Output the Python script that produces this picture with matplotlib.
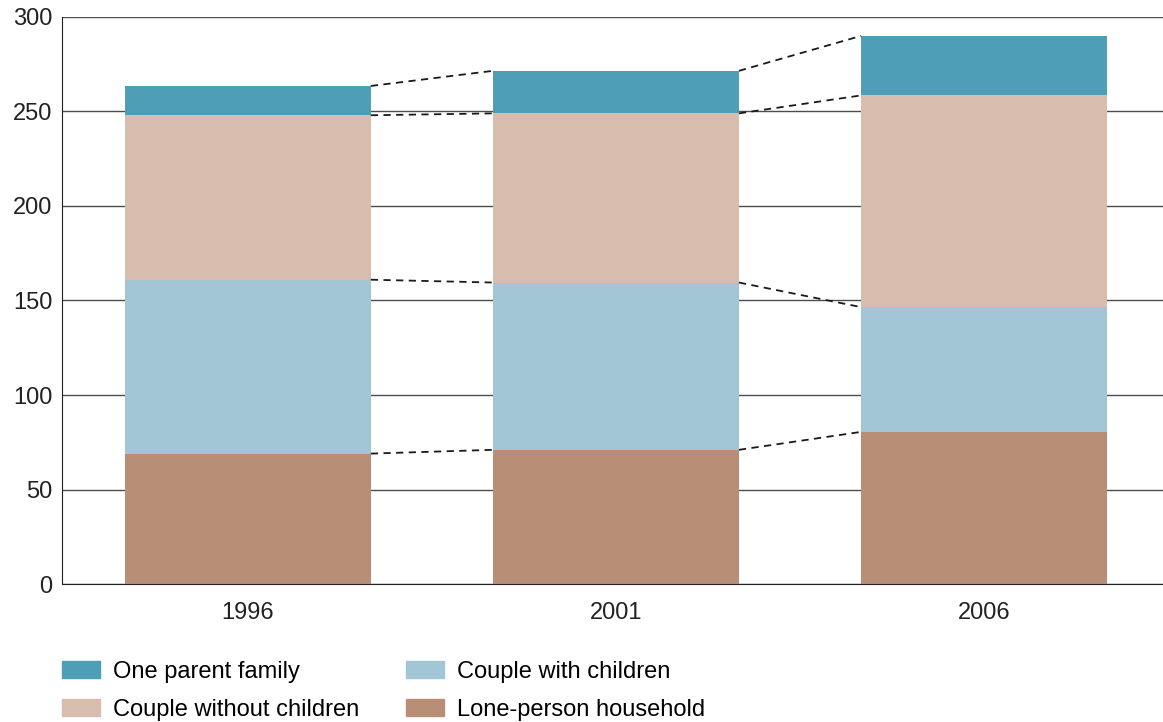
import numpy as np
import matplotlib
matplotlib.use("Agg")
import matplotlib.pyplot as plt
from matplotlib.patches import Patch

plt.rcParams['font.family'] = ['Liberation Sans', 'DejaVu Sans']

years = ['1996', '2001', '2006']
lone_person = [69, 71, 80.5]
couple_with = [92, 88.5, 66]
couple_without = [87, 89.5, 112]
one_parent = [15.5, 22.5, 31.5]

series = [
    ('Lone-person household', lone_person, '#b88f76'),
    ('Couple with children', couple_with, '#a2c6d6'),
    ('Couple without children', couple_without, '#d8bdae'),
    ('One parent family', one_parent, '#4e9eb8'),
]

fig = plt.figure(figsize=(11.63, 7.22), dpi=100)
ax = fig.add_axes([0.0533, 0.1911, 0.9467, 0.7854])

x = np.arange(len(years))
w = 0.668
bottom = np.zeros(len(years))
for name, vals, col in series:
    vals = np.array(vals)
    ax.bar(x, vals, w, bottom=bottom, color=col, label=name, zorder=2)
    bottom = bottom + vals
    # dashed connectors between bar tops
    for i in range(len(years) - 1):
        ax.plot([x[i] + w / 2, x[i + 1] - w / 2], [bottom[i], bottom[i + 1]],
                color='#1a1a1a', lw=1.3, ls=(0, (4, 3)), zorder=3)

ax.set_xlim(-0.505, 2.486)
ax.set_ylim(0, 300)
ax.set_yticks(range(0, 301, 50))
ax.set_xticks(x)
ax.set_xticklabels(years)
ax.tick_params(axis='both', length=0, labelsize=17, colors='#222222')
ax.tick_params(axis='x', pad=13)
ax.tick_params(axis='y', pad=7)
ax.yaxis.grid(True, color='#4d4d4d', lw=1, zorder=0)
ax.set_axisbelow(True)
for s in ['top', 'right']:
    ax.spines[s].set_visible(False)
ax.spines['left'].set_color('#222222')
ax.spines['bottom'].set_color('#222222')

handles = [Patch(color='#4e9eb8', label='One parent family'),
           Patch(color='#d8bdae', label='Couple without children'),
           Patch(color='#a2c6d6', label='Couple with children'),
           Patch(color='#b88f76', label='Lone-person household')]
fig.legend(handles=handles, ncol=2, loc='upper left', bbox_to_anchor=(0.0533, 0.085),
           frameon=False, fontsize=17, handlelength=1.61, handleheight=0.72,
           handletextpad=0.54, columnspacing=2.0, labelspacing=0.7,
           borderaxespad=0, borderpad=0)

fig.savefig('out.png', dpi=100)
